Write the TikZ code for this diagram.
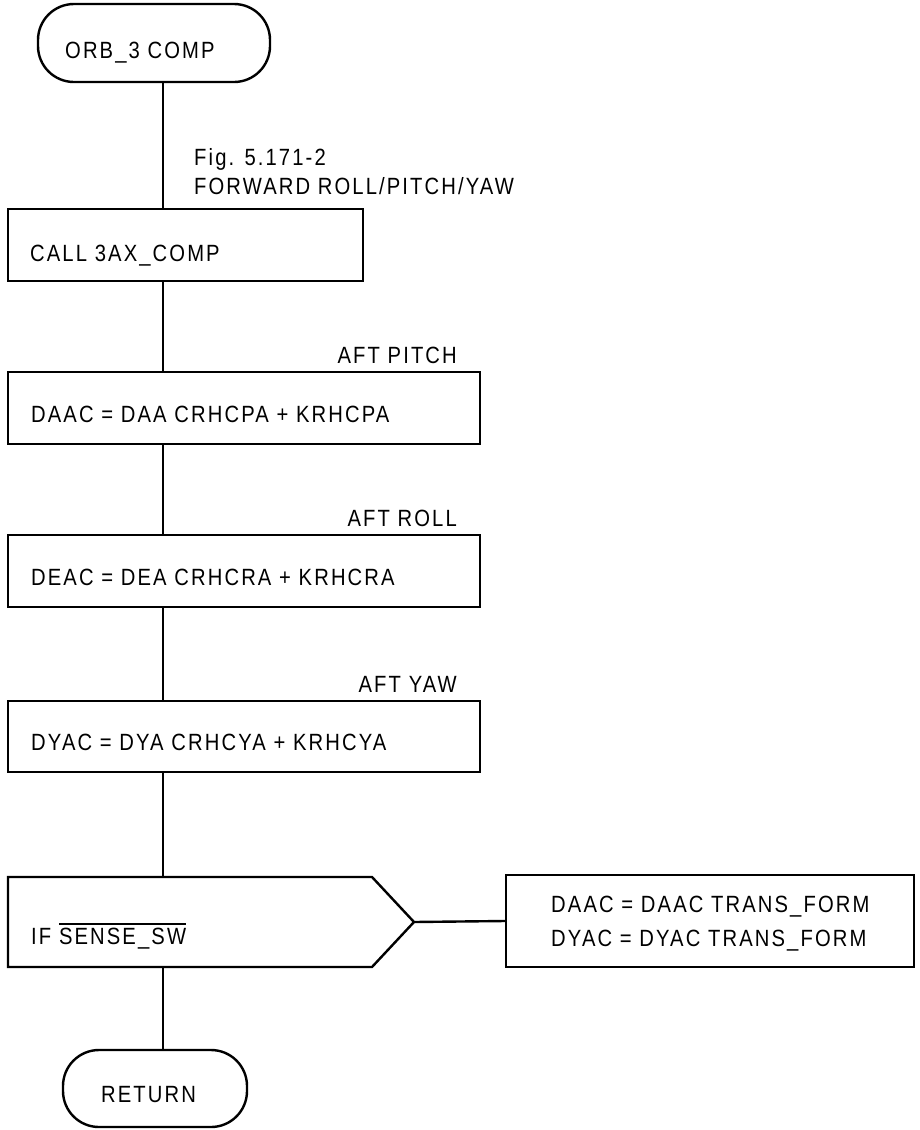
\documentclass[tikz,border=0pt]{standalone}
\usepackage{fontspec}
\setmainfont{Liberation Sans}[FakeStretch=0.86,LetterSpace=9]
\newcommand\olbar[1]{\leavevmode\vbox{\hrule height 1.9pt\kern 2.5pt\hbox{#1}}}
\begin{document}
\begin{tikzpicture}[x=1pt,y=-1pt,line width=2.4pt,
  every node/.style={font=\fontsize{23.5}{28}\selectfont},
  stepbox/.style={draw,rectangle,inner sep=0pt,line width=2.4pt},
  term/.style={draw,rectangle,rounded corners=36pt,inner sep=0pt,line width=2.4pt},
  txt/.style={anchor=base west,inner sep=0pt},
  lbl/.style={anchor=base east,inner sep=0pt}]
\useasboundingbox (0,0) rectangle (920,1130);
\coordinate (spine) at (163,0);
% terminals and boxes
\node[term,minimum width=232pt,minimum height=78pt] (orb) at (154,43) {};
\node[txt] (orbt) at (64,58) {ORB\_3 COMP};
\node[txt] (fig) at (193,165) {Fig. 5.171-2};
\node[txt] (fwd) at (193,194) {FORWARD ROLL/PITCH/YAW};
\node[stepbox,minimum width=355pt,minimum height=72pt] (call) at (185.5,245) {};
\node[txt] (callt) at (29,261) {CALL 3AX\_COMP};
\node[lbl] (pitch) at (458,363) {AFT PITCH};
\node[stepbox,minimum width=472pt,minimum height=72pt] (daac) at (244,408) {};
\node[txt] (daact) at (30,422) {DAAC = DAA CRHCPA + KRHCPA};
\node[lbl] (roll) at (458,526) {AFT ROLL};
\node[stepbox,minimum width=472pt,minimum height=72pt] (deac) at (244,571) {};
\node[txt] (deact) at (30,585) {DEAC = DEA CRHCRA + KRHCRA};
\node[lbl] (yaw) at (458,692) {AFT YAW};
\node[stepbox,minimum width=472pt,minimum height=71pt] (dyac) at (244,736.5) {};
\node[txt] (dyact) at (30,750) {DYAC = DYA CRHCYA + KRHCYA};
% decision box
\coordinate (iftl) at (8,877);
\coordinate (iftr) at (372,877);
\coordinate (iftip) at (414,922);
\coordinate (ifbr) at (372,967);
\coordinate (ifbl) at (8,967);
\draw[line join=miter] (iftl) -- (iftr) -- (iftip) -- (ifbr) -- (ifbl) -- cycle;
\coordinate (iftop) at (163,877);
\coordinate (ifbot) at (163,967);
\node[txt] (ift) at (30,944) {IF \olbar{SENSE\_SW}};
\node[stepbox,minimum width=408pt,minimum height=92pt] (side) at (710,921) {};
\node[txt] (side1) at (550,912) {DAAC = DAAC TRANS\_FORM};
\node[txt] (side2) at (550,946) {DYAC = DYAC TRANS\_FORM};
\node[term,minimum width=184pt,minimum height=77pt] (ret) at (155,1088.5) {};
\node[txt] (rett) at (100,1102) {RETURN};
% connectors
\draw (spine |- orb.south) -- (spine |- call.north);
\draw (spine |- call.south) -- (spine |- daac.north);
\draw (spine |- daac.south) -- (spine |- deac.north);
\draw (spine |- deac.south) -- (spine |- dyac.north);
\draw (spine |- dyac.south) -- (iftop);
\draw (ifbot) -- (spine |- ret.north);
\draw (iftip) -- (side.west);
\end{tikzpicture}
\end{document}
